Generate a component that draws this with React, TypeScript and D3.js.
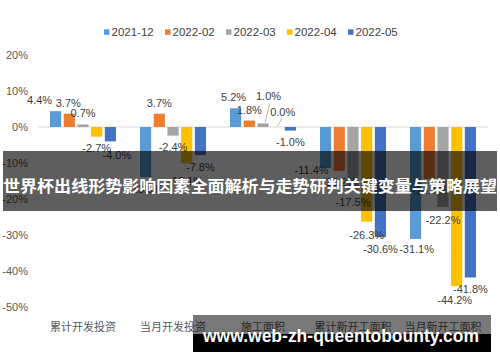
import React from "react";
import * as d3 from "d3";

const categories = ["累计开发投资", "当月开发投资", "施工面积", "累计新开工面积", "当月新开工面积"];
const seriesNames = ["2021-12", "2022-02", "2022-03", "2022-04", "2022-05"];
const seriesColors = ["#5B9BD5", "#ED7D31", "#A5A5A5", "#FFC000", "#4472C4"];
// values per series, across categories
const s202112 = [4.4, -13.9, 5.2, -11.4, -31.1];
const s202202 = [3.7, 3.7, 1.8, -12.2, -14.4];
const s202203 = [0.7, -2.4, 1.0, -17.5, -22.2];
const s202204 = [-2.7, -10.1, 0.0, -26.3, -44.2];
const s202205 = [-4.0, -7.8, -1.0, -30.6, -41.8];
const seriesValues = [s202112, s202202, s202203, s202204, s202205];
const yTicks = [20, 10, 0, -10, -20, -30, -40, -50];

const titleText = "世界杯出线形势影响因素全面解析与走势研判关键变量与策略展望";
const watermark = "www.web-zh-queentobounty.com";

// label nudges [series][category] -> [dx, dy]
const nudges: Record<string, [number, number]> = {
  "0-0": [-16, 0],
  "1-0": [-1, 0],
  "4-0": [6.5, 2],
  "3-1": [-1, 6],
  "0-2": [-2, 0],
  "2-2": [5.5, -16],
  "3-2": [6, -4],
  "0-3": [-14, -9.5],
  "3-3": [0, 2],
  "0-4": [1, -1],
  "2-4": [0, 2],
  "3-4": [-2, 2],
};

export default function App() {
  const W = 500, H = 362;
  const x0 = d3.scaleBand<string>().domain(categories).range([38, 488]).padding(0);
  const x1 = d3.scaleBand<string>().domain(seriesNames).range([12, 78]).paddingInner(0.185).paddingOuter(0);
  const y = d3.scaleLinear().domain([-50, 20]).range([307, 55]);
  const fmt = (v: number) => v.toFixed(1) + "%";
  const latin = "'Liberation Sans', Arial, sans-serif";
  const cjk = "'Noto Sans CJK SC', sans-serif";

  const bars: JSX.Element[] = [];
  const labels: JSX.Element[] = [];
  seriesNames.forEach((s, si) => {
    categories.forEach((c, ci) => {
      const v = seriesValues[si][ci];
      const bx = (x0(c) as number) + (x1(s) as number);
      const bw = x1.bandwidth();
      const y0 = y(0), yv = y(v);
      bars.push(
        <rect key={`b-${si}-${ci}`} x={bx} y={Math.min(y0, yv)} width={bw} height={Math.abs(yv - y0)} fill={seriesColors[si]} />
      );
      const n = nudges[`${si}-${ci}`] || [0, 0];
      const lx = bx + bw / 2 + n[0];
      const ly = (v >= 0 ? yv - 11 : yv + 11.5) + n[1];
      labels.push(
        <text key={`l-${si}-${ci}`} x={lx} y={ly} textAnchor="middle" dominantBaseline="central" fontSize={11} fill="#404040" fontFamily={latin}>
          {fmt(v)}
        </text>
      );
    });
  });

  // leader lines for the nudged 施工面积 labels
  const cx2 = x0(categories[2]) as number;
  const bw = x1.bandwidth();
  const gx = cx2 + (x1(seriesNames[2]) as number) + bw / 2;
  const yx = cx2 + (x1(seriesNames[3]) as number) + bw / 2;

  return (
    <svg width={W} height={H} style={{ position: "absolute", left: 0, top: 0, background: "#fff" }}>
      <rect x={0} y={0} width={W} height={H} fill="#fff" />
      {/* legend */}
      {seriesNames.map((s, i) => {
        const lx = 104 + i * 61;
        return (
          <g key={`lg-${i}`}>
            <rect x={lx} y={29.3} width={5.5} height={5.5} fill={seriesColors[i]} />
            <text x={lx + 7.5} y={32.2} dominantBaseline="central" fontSize={11.5} fill="#404040" fontFamily={latin}>{s}</text>
          </g>
        );
      })}
      {/* y axis labels */}
      {yTicks.map((t) => (
        <text key={`yt-${t}`} x={28} y={y(t)} textAnchor="end" dominantBaseline="central" fontSize={11} fill="#595959" fontFamily={latin}>
          {t + "%"}
        </text>
      ))}
      {/* zero line */}
      <line x1={38} x2={488} y1={y(0)} y2={y(0)} stroke="#d9d9d9" strokeWidth={1} />
      {bars}
      <line x1={gx + 7} y1={y(1.0) - 20} x2={gx + 2} y2={y(1.0) - 1} stroke="#a6a6a6" strokeWidth={0.8} />
      <line x1={yx + 5.5} y1={y(0) - 9} x2={yx + 0.5} y2={y(0) - 0.5} stroke="#a6a6a6" strokeWidth={0.8} />
      {labels}
      {/* category labels */}
      {categories.map((c) => (
        <text key={`c-${c}`} x={(x0(c) as number) + x0.bandwidth() / 2} y={325.5} textAnchor="middle" dominantBaseline="central" fontSize={11} fill="#595959" fontFamily={cjk}>
          {c}
        </text>
      ))}
      {/* title overlay band */}
      <rect x={3} y={151} width={494} height={60} fill="rgba(0,0,0,0.63)" />
      <text x={250} y={185} textAnchor="middle" dominantBaseline="central" fontSize={16.4} fontWeight="bold" fill="#fff" fontFamily={cjk} textLength={494} lengthAdjust="spacingAndGlyphs">
        {titleText}
      </text>
      {/* watermark */}
      <rect x={193} y={315} width={298} height={19} fill="rgba(0,0,0,0.53)" />
      <rect x={193} y={334} width={298} height={18} fill="#000" />
      <text x={203} y={342} fontSize={17.5} fontWeight="bold" fill="#fff" fontFamily={latin} textLength={276} lengthAdjust="spacingAndGlyphs">
        {watermark}
      </text>
    </svg>
  );
}
